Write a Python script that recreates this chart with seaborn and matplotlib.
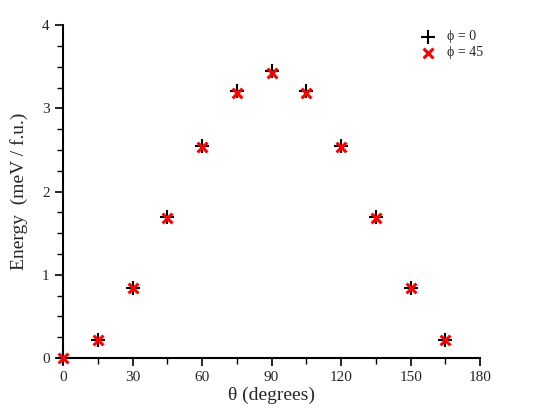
import matplotlib
matplotlib.use("Agg")
import matplotlib.pyplot as plt
import seaborn as sns
import pandas as pd
from matplotlib.ticker import MultipleLocator

theta = [0, 15, 30, 45, 60, 75, 90, 105, 120, 135, 150, 165]
energy_phi0 = [0.0, 0.22, 0.84, 1.69, 2.55, 3.21, 3.45, 3.21, 2.55, 1.69, 0.84, 0.22]
energy_phi45 = [0.0, 0.22, 0.84, 1.68, 2.54, 3.18, 3.42, 3.18, 2.54, 1.68, 0.84, 0.22]

df0 = pd.DataFrame({"theta": theta, "energy": energy_phi0})
df45 = pd.DataFrame({"theta": theta, "energy": energy_phi45})

sns.set_style("ticks")
plt.rcParams["font.family"] = ["Liberation Serif", "DejaVu Serif"]

fig = plt.figure(figsize=(5.5, 4.13), dpi=100)
ax = fig.add_axes([0.1145, 0.133, 0.7585, 0.806])

sns.scatterplot(data=df0, x="theta", y="energy", marker="+", color="black",
                s=100, linewidth=1.5, ax=ax, label="\u03d5 = 0", zorder=3)
sns.scatterplot(data=df45, x="theta", y="energy", marker="x", color="red",
                s=50, linewidth=2.2, ax=ax, label="\u03d5 = 45", zorder=4)
for coll in ax.collections:
    coll.set_clip_on(False)

ax.set_xlim(0, 180)
ax.set_ylim(0, 4)
ax.xaxis.set_major_locator(MultipleLocator(30))
ax.xaxis.set_minor_locator(MultipleLocator(15))
ax.yaxis.set_major_locator(MultipleLocator(1))
ax.yaxis.set_minor_locator(MultipleLocator(0.25))
ax.tick_params(which="major", length=6, width=1.2, labelsize=11, color="black")
ax.tick_params(which="minor", length=4, width=1.0, color="black")
for side in ["top", "right"]:
    ax.spines[side].set_visible(False)
for side in ["left", "bottom"]:
    ax.spines[side].set_linewidth(1.5)
    ax.spines[side].set_color("black")
ax.set_xlabel("\u03b8 (degrees)", fontsize=14, labelpad=2)
ax.set_ylabel("Energy  (meV / f.u.)", fontsize=14, labelpad=10)

ax.legend(loc="upper right", bbox_to_anchor=(1.036, 1.022), frameon=False,
          fontsize=10, handletextpad=0.3, labelspacing=0.2, markerscale=1.0)

fig.savefig("out.png", dpi=100)
